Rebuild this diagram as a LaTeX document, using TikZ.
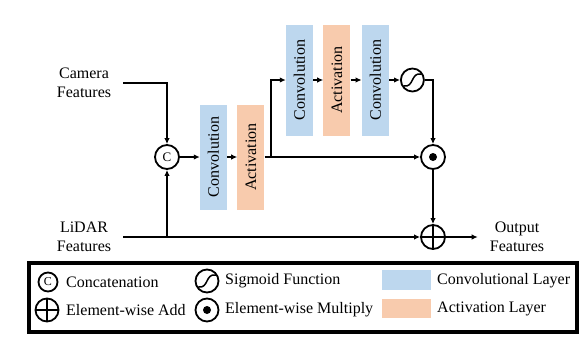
\documentclass[tikz,border=0pt]{standalone}
\usepackage{fontspec}
\setmainfont{Liberation Serif}
\usepackage{graphicx}
\usetikzlibrary{positioning,arrows.meta}
\definecolor{convblue}{RGB}{189,215,238}
\definecolor{actorange}{RGB}{248,203,173}
\tikzset{
    flow/.style={line width=2.8pt, -{Latex[length=6pt,width=5.5pt]}},
    layer/.style={inner sep=0pt, minimum width=27pt, minimum height=#1,
        font=\fontsize{16}{19}\selectfont},
    conv/.style={layer=#1, fill=convblue},
    conv/.default=105pt,
    act/.style={layer=#1, fill=actorange},
    act/.default=105pt,
    feat/.style={align=center, inner xsep=12pt, font=\fontsize{16}{19}\selectfont},
    legtext/.style={anchor=west, inner sep=0pt, font=\fontsize{16}{18}\selectfont},
    op/.style={circle, draw, line width=1.8pt, inner sep=0pt, minimum size=24pt},
    % symbols drawn inside the operator circles
    addop/.style={path picture={
        \draw[line width=1.8pt] (path picture bounding box.north) -- (path picture bounding box.south)
            (path picture bounding box.west) -- (path picture bounding box.east);}},
    mulop/.style={path picture={
        \fill (path picture bounding box.center) circle (4pt);}},
    sigop/.style={path picture={
        \draw[line width=1.5pt] ([shift={(-9pt,-6pt)}]path picture bounding box.center)
            .. controls ([shift={(2pt,-8pt)}]path picture bounding box.center)
            and ([shift={(-2pt,8pt)}]path picture bounding box.center)
            .. ([shift={(9pt,6pt)}]path picture bounding box.center);}}
}

\begin{document}
\begin{tikzpicture}[x=1pt,y=-1pt]
\useasboundingbox (0,0) rectangle (588,338);
\node(Cam) [feat] at (84,83)  {Camera\\Features};
\node(Lid) [feat] at (84,237) {LiDAR\\Features};
\node(C)  [op, font=\fontsize{13}{13}\selectfont] at (167,157) {C};
\node(V1) [conv] at (213.5,157) {\rotatebox{90}{Convolution}};
\node(A1) [act, right=10pt of V1] {\rotatebox{90}{Activation}};
\node(V2) [conv=111pt] at (299.5,80) {\rotatebox{90}{Convolution}};
\node(A2) [act=111pt, right=10pt of V2] {\rotatebox{90}{Activation}};
\node(V3) [conv=111pt, right=11pt of A2] {\rotatebox{90}{Convolution}};
\node(S)  [op, sigop, minimum size=23pt, right=11pt of V3] {};
\node(M)  [op, mulop] at (433,157) {};
\node(P)  [op, addop] at (433,237) {};
\node(Out) [feat] at (517,237) {Output\\Features};
\coordinate(J1) at (C |- Lid);
\coordinate(J2) at (271,157);
\draw[flow] (Cam.east) -| (C.north);
\draw[flow] (J1) -- (C.south);
\draw[flow] (Lid.east) -- (P.west);
\draw[flow] (C) -- (V1);
\draw[flow] (V1) -- (A1);
\draw[flow] (A1) -- (M);
\draw[flow] (J2) |- (V2);
\draw[flow] (V2) -- (A2);
\draw[flow] (A2) -- (V3);
\draw[flow] (V3) -- (S);
\draw[flow] (S) -| (M);
\draw[flow] (M) -- (P);
\draw[flow] (P) -- (Out);
% legend
\draw[line width=3.5pt] (29,263) rectangle (577,332);
\node(LC) [op, minimum size=19pt, font=\fontsize{12}{12}\selectfont] at (48,282) {C};
\node(LP) [op, addop, minimum size=23pt] at (47,310) {};
\node(LS) [op, sigop, minimum size=23pt] at (207,281) {};
\node(LM) [op, mulop, minimum size=23pt] at (207,310) {};
\node(LB) [fill=convblue, minimum width=49pt, minimum height=20pt, inner sep=0pt] at (406.5,280) {};
\node(LA) [fill=actorange, minimum width=49pt, minimum height=19pt, inner sep=0pt] at (406.5,308.5) {};
\node [legtext] at (66,282)  {Concatenation};
\node [legtext] at (66,310)  {Element-wise Add};
\node [legtext] at (225,281) {Sigmoid Function};
\node [legtext] at (225,310) {Element-wise Multiply};
\node [legtext] at (437,281) {Convolutional Layer};
\node [legtext] at (437,309) {Activation Layer};
\end{tikzpicture}
\end{document}
